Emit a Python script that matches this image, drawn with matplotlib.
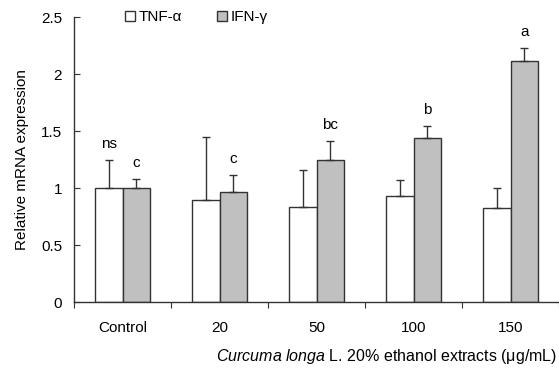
import matplotlib.pyplot as plt
import numpy as np

plt.rcParams['font.family'] = ['Liberation Sans', 'DejaVu Sans']
plt.rcParams['mathtext.fontset'] = 'custom'
plt.rcParams['mathtext.rm'] = 'Liberation Sans'
plt.rcParams['mathtext.it'] = 'Liberation Sans:italic'

# data
groups = ["Control", "20", "50", "100", "150"]
tnf = [1.0, 0.90, 0.84, 0.935, 0.83]
tnf_err = [0.25, 0.55, 0.32, 0.135, 0.17]
ifn = [1.0, 0.97, 1.245, 1.44, 2.12]
ifn_err = [0.08, 0.145, 0.17, 0.11, 0.115]
tnf_letters = ["ns", "", "", "", ""]
ifn_letters = ["c", "c", "bc", "b", "a"]

fs = 11

fig = plt.figure(figsize=(5.59, 3.69), dpi=100)
ax = fig.add_axes([0.1324, 0.1808, 0.8676, 0.7722])

x = np.arange(len(groups))
w = 0.284
edge = "#333333"
ekw = dict(ecolor="#333333", elinewidth=1.0, capsize=3, capthick=1.0)

ax.bar(x - w / 2, tnf, w, color="white", edgecolor=edge, linewidth=1.0,
       yerr=[np.zeros(len(tnf)), tnf_err], error_kw=ekw, label="TNF-α", zorder=2)
ax.bar(x + w / 2, ifn, w, color="#c0c0c0", edgecolor=edge, linewidth=1.0,
       yerr=[np.zeros(len(ifn)), ifn_err], error_kw=ekw, label="IFN-γ", zorder=2)

for i in range(len(groups)):
    if tnf_letters[i]:
        ax.text(x[i] - w / 2, tnf[i] + tnf_err[i] + 0.14, tnf_letters[i],
                ha="center", va="center", fontsize=fs)
    if ifn_letters[i]:
        ax.text(x[i] + w / 2, ifn[i] + ifn_err[i] + 0.14, ifn_letters[i],
                ha="center", va="center", fontsize=fs)

ax.set_xlim(-0.5, len(groups) - 0.5)
ax.set_ylim(0, 2.5)
ax.set_yticks([0, 0.5, 1, 1.5, 2, 2.5])
ax.set_yticklabels(["0", "0.5", "1", "1.5", "2", "2.5"])
ax.set_xticks(np.arange(len(groups) + 1) - 0.5)
ax.set_xticklabels([])
ax.set_xticks(x, minor=True)
ax.set_xticklabels(groups, minor=True)
ax.tick_params(axis="x", which="major", direction="out", length=4, color="#333333")
ax.tick_params(axis="x", which="minor", length=0, pad=13.5, labelsize=fs)
ax.tick_params(axis="y", direction="in", length=4, pad=8.5, labelsize=fs, color="#333333")

for s in ["top", "right"]:
    ax.spines[s].set_visible(False)
for s in ["left", "bottom"]:
    ax.spines[s].set_color("#333333")
    ax.spines[s].set_linewidth(1.0)

ax.set_ylabel("Relative mRNA expression", fontsize=11, labelpad=9)
fig.text(0.997, 0.033, r"$\it{Curcuma\ longa}$ L. 20% ethanol extracts (μg/mL)",
         ha="right", va="center", fontsize=11.5)

ax.legend(ncol=2, frameon=False, loc="center left", bbox_to_anchor=(0.092, 1.0),
          handlelength=0.65, handleheight=0.65, handletextpad=0.25, columnspacing=2.3,
          fontsize=fs, borderaxespad=0)

fig.savefig("out.png", dpi=100)
